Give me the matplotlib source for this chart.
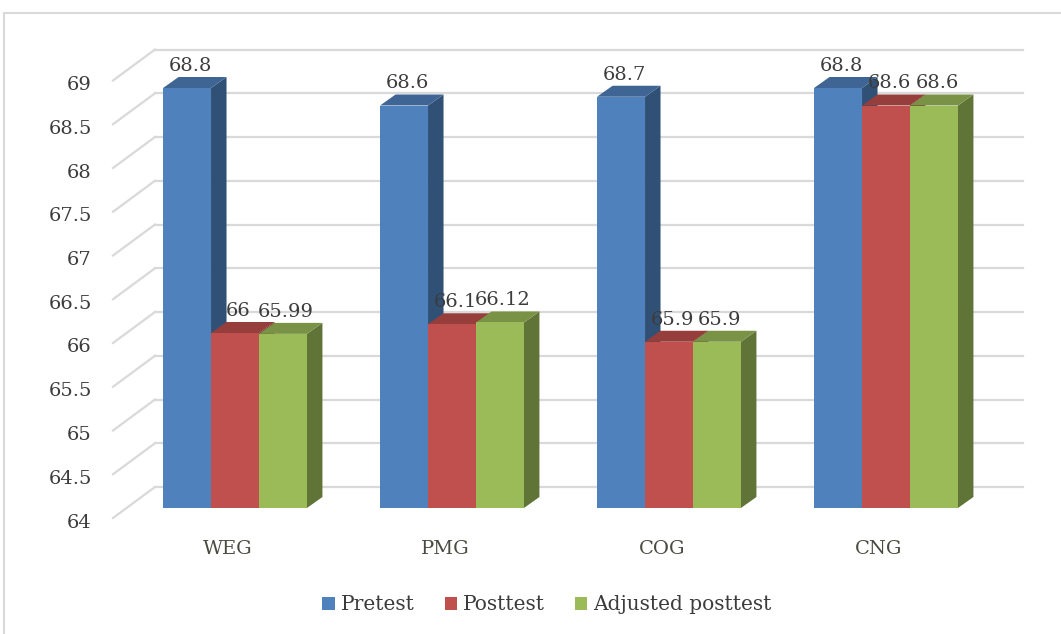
import matplotlib
matplotlib.use("Agg")
import matplotlib.pyplot as plt
from matplotlib.patches import Polygon, Patch
from matplotlib.lines import Line2D

GROUPS = ["WEG", "PMG", "COG", "CNG"]
SERIES = ["Pretest", "Posttest", "Adjusted posttest"]
PRETEST = [68.8, 68.6, 68.7, 68.8]
POSTTEST = [66, 66.1, 65.9, 68.6]
ADJUSTED = [65.99, 66.12, 65.9, 68.6]
COLORS = ["#4f81bd", "#c0504d", "#9bbb59"]
Y_TICKS = [64, 64.5, 65, 65.5, 66, 66.5, 67, 67.5, 68, 68.5, 69]

W, H = 1061, 634
plt.rcParams["font.family"] = ["DejaVu Serif"]
TEXT_C = "#3c3c3c"

fig = plt.figure(figsize=(W / 100, H / 100), dpi=100)
# axes = the plane of the bar front faces
ax_l, ax_r, ax_b, ax_t = 126.5, 994.5, 508, 70.5
ax = fig.add_axes([ax_l / W, 1 - ax_b / H, (ax_r - ax_l) / W, (ax_b - ax_t) / H])
ax.set_xlim(-0.5, 3.5)
ax.set_ylim(64, 69)
for s in ax.spines.values():
    s.set_visible(False)
ax.patch.set_alpha(0)

# pixel -> data scale factors
sx = 4 / (ax_r - ax_l)
sy = 5 / (ax_b - ax_t)


def shade(c, f):
    r, g, b = matplotlib.colors.to_rgb(c)
    return (r * f, g * f, b * f)


# perspective offsets (pixels): floor front edge, back wall, bar depth
front_dx, front_dy = -13.5, -10
back_dx, back_dy = 28.5, 21
bar_dx, bar_dy = 15.5, 11

grid_c = "#d9d9d9"
for v in Y_TICKS:
    ax.add_line(Line2D([-0.5 + back_dx * sx, 3.5 + back_dx * sx],
                       [v + back_dy * sy] * 2, color=grid_c, lw=1.6,
                       zorder=0, clip_on=False))
    ax.add_line(Line2D([-0.5 + front_dx * sx, -0.5 + back_dx * sx],
                       [v + front_dy * sy, v + back_dy * sy], color=grid_c,
                       lw=1.6, zorder=0, clip_on=False))

width = 0.221
base = 64
data = [PRETEST, POSTTEST, ADJUSTED]
for k, (vals, col) in enumerate(zip(data, COLORS)):
    for i, v in enumerate(vals):
        x0 = i + (k - 1.5) * width
        x1 = x0 + width
        ddx, ddy = bar_dx * sx, bar_dy * sy
        z = 2 + k
        side = Polygon([(x1, base), (x1 + ddx, base + ddy), (x1 + ddx, v + ddy), (x1, v)],
                       closed=True, fc=shade(col, 0.62), ec="none", zorder=z, clip_on=False)
        top = Polygon([(x0, v), (x1, v), (x1 + ddx, v + ddy), (x0 + ddx, v + ddy)],
                      closed=True, fc=shade(col, 0.78), ec="none", zorder=z, clip_on=False)
        ax.add_patch(side)
        ax.add_patch(top)
        ax.bar(x0, v - base, width, bottom=base, align="edge", color=col,
               zorder=z, clip_on=False)
        ax.text(x0 + width / 2 + 3 * sx, v + ddy + 2 * sy, f"{v:g}",
                ha="center", va="bottom", fontsize=14, color=TEXT_C,
                zorder=10, clip_on=False)

ax.set_xticks([i - 7 * sx for i in range(len(GROUPS))])
ax.set_xticklabels(GROUPS, fontsize=14, color="#4a4a40")
ax.tick_params(axis="x", length=0, pad=23)
ax.set_yticks(Y_TICKS)
ax.set_yticklabels([f"{t:g}" for t in Y_TICKS], fontsize=14, color=TEXT_C)
ax.tick_params(axis="y", length=0, pad=25)
offset = matplotlib.transforms.ScaledTranslation(0, -12.5 / 100, fig.dpi_scale_trans)
for lbl in ax.get_yticklabels():
    lbl.set_transform(lbl.get_transform() + offset)

# chart area border (top and left edges)
fig.add_artist(Line2D([4 / W, 1], [1 - 12.5 / H] * 2, color="#d9d9d9", lw=1.5))
fig.add_artist(Line2D([4 / W, 4 / W], [0, 1 - 12.5 / H], color="#d9d9d9", lw=1.5))

handles = [Patch(facecolor=c, edgecolor="none") for c in COLORS]
fig.legend(handles, SERIES, loc="center", bbox_to_anchor=(547 / W, 1 - 605 / H),
           ncol=3, frameon=False, fontsize=14.5, handlelength=0.6, handleheight=0.6,
           handletextpad=0.3, columnspacing=1.5, labelcolor=TEXT_C)

fig.savefig("out.png", dpi=100)
